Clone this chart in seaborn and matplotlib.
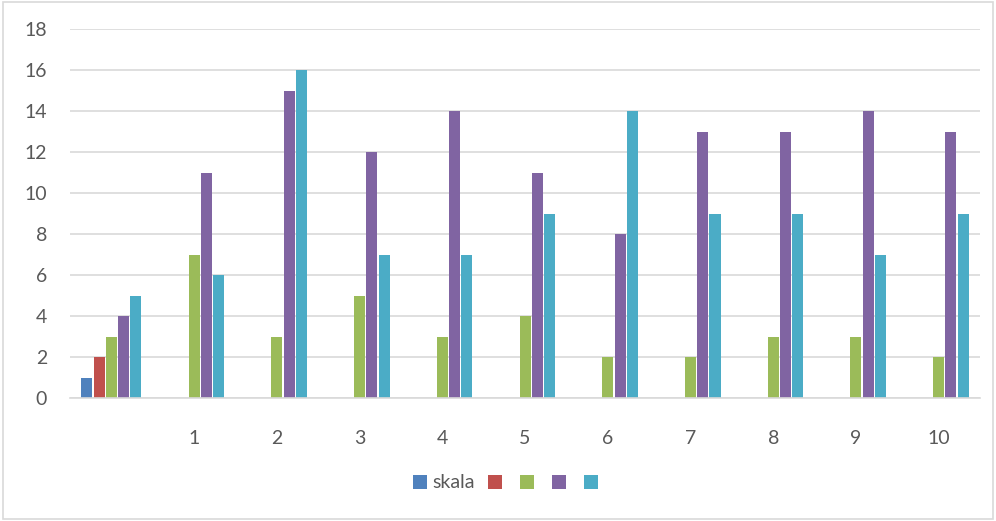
import numpy as np
import pandas as pd
import matplotlib
matplotlib.use('Agg')
import matplotlib.pyplot as plt
import seaborn as sns
from matplotlib.patches import Rectangle, Patch

categories = ['', '1', '2', '3', '4', '5', '6', '7', '8', '9', '10']
series_names = ['skala', 's2', 's3', 's4', 's5']
legend_labels = ['skala', '', '', '', '']
s1 = [1, 0, 0, 0, 0, 0, 0, 0, 0, 0, 0]
s2 = [2, 0, 0, 0, 0, 0, 0, 0, 0, 0, 0]
s3 = [3, 7, 3, 5, 3, 4, 2, 2, 3, 3, 2]
s4 = [4, 11, 15, 12, 14, 11, 8, 13, 13, 14, 13]
s5 = [5, 6, 16, 7, 7, 9, 14, 9, 9, 7, 9]
colors = ['#4F81BD', '#C0504D', '#9BBB59', '#8064A2', '#4BACC6']

rows = []
for name, vals in zip(series_names, [s1, s2, s3, s4, s5]):
    for c, v in zip(categories, vals):
        rows.append({'cat': c, 'series': name, 'value': v})
df = pd.DataFrame(rows)

sns.set_style('white')
plt.rcParams['font.family'] = ['Lato', 'DejaVu Sans']

fig = plt.figure(figsize=(9.96, 5.21), dpi=100)
ax = fig.add_axes([0.0703, 0.236, 0.9137, 0.708])

sns.barplot(data=df, x='cat', y='value', hue='series', order=categories,
            hue_order=series_names, palette=colors, saturation=1,
            width=0.74, gap=0.1, linewidth=0, legend=False, ax=ax)

ax.set_ylim(0, 18)
ax.set_yticks(range(0, 19, 2))
ax.set_xlim(-0.5, len(categories) - 0.5)
ax.yaxis.grid(True, color='#D9D9D9', linewidth=1.2)
ax.set_axisbelow(True)
for s in ['top', 'right', 'left']:
    ax.spines[s].set_visible(False)
ax.spines['bottom'].set_color('#D9D9D9')
ax.spines['bottom'].set_linewidth(1.2)
ax.set_xlabel('')
ax.set_ylabel('')
ax.tick_params(axis='x', length=0, pad=23, labelsize=14, labelcolor='#595959')
ax.tick_params(axis='y', length=0, pad=16.5, labelsize=14, labelcolor='#595959')

handles = [Patch(facecolor=c, edgecolor='none') for c in colors]
fig.legend(handles, legend_labels, loc='center', bbox_to_anchor=(0.51, 0.073),
           ncol=5, frameon=False, fontsize=14, labelcolor='#595959',
           handlelength=0.72, handleheight=0.72, handletextpad=0.26, columnspacing=0.67)

fig.patches.append(Rectangle((0.003, 0.003), 0.994, 0.994, transform=fig.transFigure,
                             fill=False, edgecolor='#D9D9D9', linewidth=1.2))

fig.savefig('out.png', dpi=100)
